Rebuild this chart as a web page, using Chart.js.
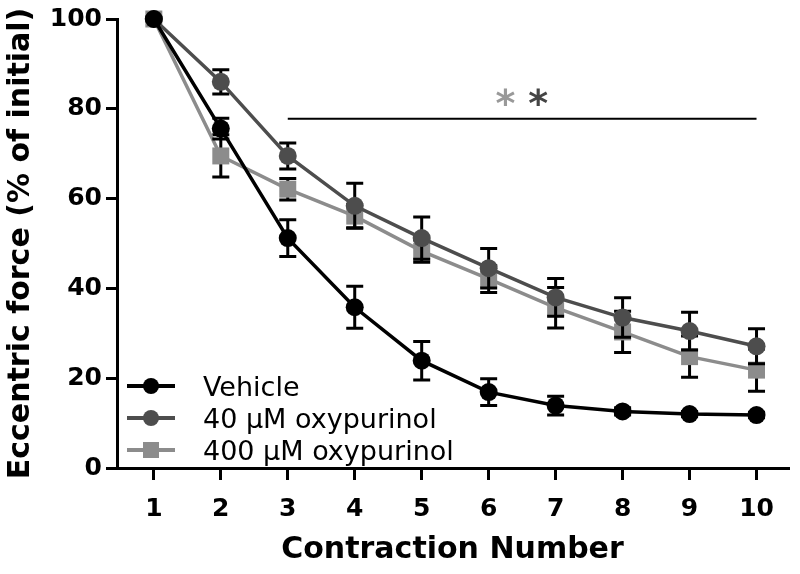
<!DOCTYPE html>
<html>
<head>
<meta charset="utf-8">
<script src="https://cdn.jsdelivr.net/npm/chart.js@4.4.1/dist/chart.umd.min.js"></script>
<style>
  html, body { margin: 0; padding: 0; background: #fff; }
  #wrap { width: 800px; height: 574px; }
</style>
</head>
<body>
<div id="wrap"><canvas id="chart"></canvas></div>
<script>
// values (mean and SEM, % of initial force)
const contractions = [1, 2, 3, 4, 5, 6, 7, 8, 9, 10];
const yTicks = [0, 20, 40, 60, 80, 100];

const vehicleMean = [100, 75.6, 51.2, 35.8, 23.9, 16.9, 13.9, 12.6, 12.0, 11.8];
const vehicleSem  = [0, 2.3, 4.1, 4.7, 4.3, 3.0, 2.1, 0.8, 0.6, 0.6];

const oxy40Mean = [100, 86.0, 69.5, 58.4, 51.2, 44.5, 38.0, 33.5, 30.5, 27.1];
const oxy40Sem  = [0, 2.7, 2.9, 5.0, 4.7, 4.4, 4.2, 4.4, 4.2, 3.9];

const oxy400Mean = [100, 69.5, 62.1, 56.1, 48.3, 42.1, 35.7, 30.3, 24.8, 21.8];
const oxy400Sem  = [0, 4.7, 2.4, 2.6, 2.5, 3.0, 4.5, 4.6, 4.6, 4.7];

const seriesNames = ['Vehicle', '40 \u03BCM oxypurinol', '400 \u03BCM oxypurinol'];

// significance bar over contractions 3-10
const sigFrom = 3;
const sigTo = 10;
const sigLevel = 77.8;
const starX = [6.25, 6.74];
const starY = 82.6;

const FONT = "'DejaVu Sans', sans-serif";

function toPoints(means) {
    return contractions.map((c, i) => ({ x: c, y: means[i] }));
}

// error bars are drawn just before each dataset so markers sit on top
const errorBars = {
    id: 'errorBars',
    beforeDatasetDraw(chart, args) {
        const ds = chart.data.datasets[args.index];
        const yScale = chart.scales.y;
        const ctx = chart.ctx;
        ctx.save();
        ctx.strokeStyle = '#000';
        ctx.lineWidth = 3;
        args.meta.data.forEach((pt, i) => {
            const e = ds.sem[i];
            if (!e) return;
            const v = ds.data[i].y;
            const top = yScale.getPixelForValue(v + e);
            const bot = yScale.getPixelForValue(v - e);
            ctx.beginPath();
            ctx.moveTo(pt.x, top);
            ctx.lineTo(pt.x, bot);
            ctx.moveTo(pt.x - 8.5, top);
            ctx.lineTo(pt.x + 8.5, top);
            ctx.moveTo(pt.x - 8.5, bot);
            ctx.lineTo(pt.x + 8.5, bot);
            ctx.stroke();
        });
        ctx.restore();
    }
};

// significance line + asterisks, and the legend in the lower left corner
const extras = {
    id: 'extras',
    afterDraw(chart) {
        const ctx = chart.ctx;
        const xs = chart.scales.x, ys = chart.scales.y;
        ctx.save();

        ctx.strokeStyle = '#000';
        ctx.lineWidth = 2;
        const ly = ys.getPixelForValue(sigLevel);
        ctx.beginPath();
        ctx.moveTo(xs.getPixelForValue(sigFrom), ly);
        ctx.lineTo(xs.getPixelForValue(sigTo), ly);
        ctx.stroke();

        ctx.font = "bold 38px " + FONT;
        ctx.textAlign = 'center';
        ctx.textBaseline = 'alphabetic';
        const starColors = ['#999999', '#444444'];
        starX.forEach((sx, i) => {
            ctx.fillStyle = starColors[i];
            ctx.fillText('*', xs.getPixelForValue(sx), ys.getPixelForValue(starY) + 19);
        });

        // legend
        const rows = [386, 418, 450];
        ctx.font = "27px " + FONT;
        ctx.textAlign = 'left';
        chart.data.datasets.forEach((ds, i) => {
            const y = rows[i];
            ctx.strokeStyle = ds.borderColor;
            ctx.lineWidth = 4;
            ctx.beginPath();
            ctx.moveTo(127, y);
            ctx.lineTo(175, y);
            ctx.stroke();
            ctx.fillStyle = ds.backgroundColor;
            if (ds.pointStyle === 'rect') {
                ctx.fillRect(151 - 8, y - 8, 16, 16);
            } else {
                ctx.beginPath();
                ctx.arc(151, y, 8, 0, Math.PI * 2);
                ctx.fill();
            }
            ctx.fillStyle = '#000';
            ctx.fillText(ds.label, 203, y + 10);
        });
        ctx.restore();
    }
};

function makeSet(label, means, sem, color, style, radius) {
    return {
        label: label,
        data: toPoints(means),
        sem: sem,
        borderColor: color,
        backgroundColor: color,
        borderWidth: 3.5,
        pointStyle: style,
        pointRadius: radius,
        pointBorderWidth: 0,
        pointBackgroundColor: color,
        tension: 0,
        clip: false
    };
}

const datasets = [
    makeSet(seriesNames[0], vehicleMean, vehicleSem, '#000000', 'circle', 9),
    makeSet(seriesNames[1], oxy40Mean, oxy40Sem, '#4d4d4d', 'circle', 9),
    makeSet(seriesNames[2], oxy400Mean, oxy400Sem, '#8c8c8c', 'rect', 12)
];

const axisCommon = {
    border: { display: true, color: '#000', width: 3 },
    grid: { display: true, drawOnChartArea: false, drawTicks: true, color: '#000', lineWidth: 3 }
};

new Chart(document.getElementById('chart'), {
    type: 'line',
    data: { datasets: datasets },
    options: {
        responsive: true,
        maintainAspectRatio: false,
        animation: false,
        layout: { padding: { top: 17, right: 5, left: 0, bottom: 0 } },
        plugins: {
            legend: { display: false },
            tooltip: { enabled: false }
        },
        scales: {
            x: {
                type: 'linear',
                min: 0.45,
                max: 10.47,
                border: axisCommon.border,
                grid: Object.assign({}, axisCommon.grid, { tickLength: 12 }),
                afterBuildTicks: (scale) => { scale.ticks = contractions.map(v => ({ value: v })); },
                afterFit: (scale) => { scale.height = 106; },
                ticks: {
                    color: '#000',
                    padding: 14,
                    maxRotation: 0,
                    autoSkip: false,
                    font: { family: FONT, size: 25, weight: 'bold' }
                },
                title: {
                    display: true,
                    text: 'Contraction Number',
                    color: '#000',
                    padding: { top: 0, bottom: 6 },
                    font: { family: FONT, size: 30, weight: 'bold' }
                }
            },
            y: {
                min: 0,
                max: 100,
                border: axisCommon.border,
                grid: Object.assign({}, axisCommon.grid, { tickLength: 11 }),
                afterBuildTicks: (scale) => { scale.ticks = yTicks.map(v => ({ value: v })); },
                afterFit: (scale) => { scale.width = 117; },
                ticks: {
                    color: '#000',
                    padding: 4,
                    font: { family: FONT, size: 25, weight: 'bold' }
                },
                title: {
                    display: true,
                    text: 'Eccentric force (% of initial)',
                    color: '#000',
                    padding: { top: 3, bottom: 0 },
                    font: { family: FONT, size: 30, weight: 'bold' }
                }
            }
        }
    },
    plugins: [errorBars, extras]
});
</script>
</body>
</html>
